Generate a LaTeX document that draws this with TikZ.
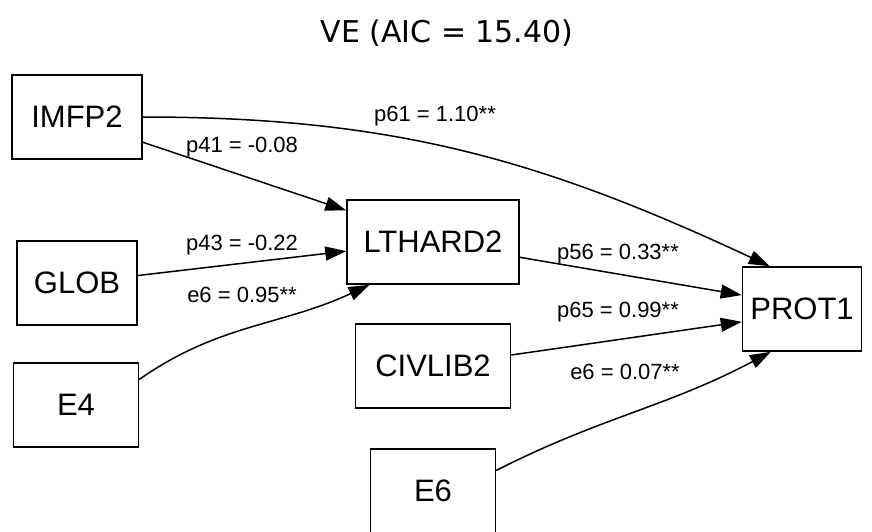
\documentclass[tikz,border=0pt]{standalone}
\usepackage{fontspec}
\setmainfont{Liberation Sans}
\newfontfamily\titlefont{DejaVu Sans}
\usetikzlibrary{arrows.meta,positioning}

\begin{document}
\begin{tikzpicture}[
  x=1pt, y=1pt,
  varbox/.style={
    rectangle, draw=black, line width=1.5pt,
    minimum height=84pt, inner xsep=4pt,
    font=\fontsize{31}{36}\selectfont
  },
  link/.style={-{Triangle[length=21pt,width=14pt]}, line width=1.5pt},
  coef/.style={font=\fontsize{22}{26}\selectfont, inner sep=0pt}
]
\useasboundingbox (0,0) rectangle (872,531);

\node[font=\titlefont\fontsize{30}{36}\selectfont] (title) at (447,498) {VE (AIC = 15.40)};

\node[varbox, minimum width=130pt] (imfp2)   at (77,414)  {IMFP2};
\node[varbox, minimum width=120pt] (glob)    at (77,248)  {GLOB};
\node[varbox, minimum width=125pt] (e4)      at (76,126)  {E4};
\node[varbox, minimum width=172pt] (lthard2) at (433,289) {LTHARD2};
\node[varbox, minimum width=155pt] (civlib2) at (433,165) {CIVLIB2};
\node[varbox, minimum width=125pt] (e6)      at (433,40)  {E6};
\node[varbox, minimum width=119pt] (prot1)   at (802,222) {PROT1};

\draw[link] (imfp2.east) to[out=0, in=155] (prot1.127);
\draw[link] (imfp2.-21) -- (lthard2.160);
\draw[link] (glob.7) -- (lthard2.186);
\draw[link] (e4.22) to[out=35, in=205] (lthard2.214);
\draw[link] (lthard2.-10) -- (prot1.167);
\draw[link] (civlib2.8) -- (prot1.192);
\draw[link] (e6.18) to[out=27, in=208] (prot1.234);

\node[coef] (c61) at (435,415) {p61 = 1.10**};
\node[coef] (c41) at (242,384) {p41 = -0.08};
\node[coef] (c43) at (242,286) {p43 = -0.22};
\node[coef] (c4e) at (242,236) {e6 = 0.95**};
\node[coef] (c56) at (618,277) {p56 = 0.33**};
\node[coef] (c65) at (618,219) {p65 = 0.99**};
\node[coef] (c6e) at (625,159) {e6 = 0.07**};
\end{tikzpicture}
\end{document}
